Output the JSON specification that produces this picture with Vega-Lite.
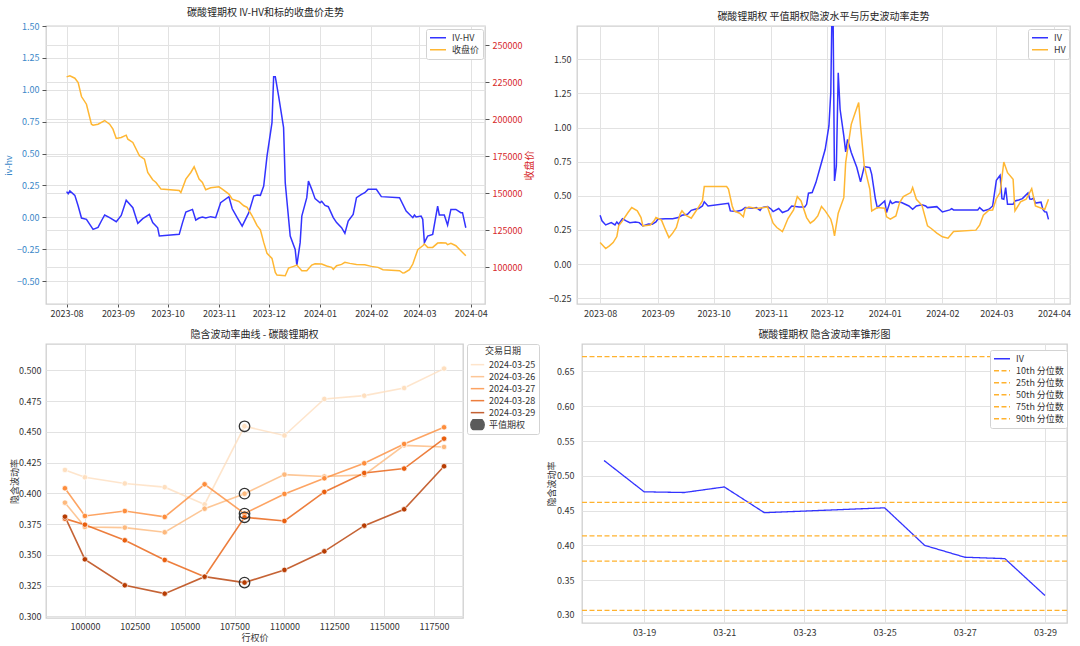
{
  "$schema": "https://vega.github.io/schema/vega-lite/v6.json",
  "background": "white",
  "padding": {"left": 3, "top": 7, "right": 4, "bottom": 2},
  "config": {
    "font": "Noto Sans CJK SC",
    "view": {"stroke": "#cfcfcf", "strokeWidth": 1.3},
    "axis": {"labelFontSize": 9, "labelColor": "#333333", "titleFontSize": 9, "titleFontWeight": "normal", "titleColor": "#333333", "gridColor": "#e2e2e2", "gridWidth": 1, "domain": false, "ticks": false, "labelFont": "Noto Sans CJK SC", "titleFont": "Noto Sans CJK SC"},
    "title": {"fontSize": 10, "fontWeight": "normal", "color": "#262626", "offset": 4, "font": "Noto Sans CJK SC"},
    "legend": {"labelFontSize": 9, "labelColor": "#333333", "titleFontSize": 9, "titleFontWeight": "normal", "titleColor": "#333333", "symbolSize": 256, "symbolStrokeWidth": 1.5, "clipHeight": 11.5, "padding": 3, "rowPadding": 0, "labelOffset": 5, "strokeColor": "#d3d3d3", "fillColor": "white", "cornerRadius": 2, "symbolBaseFillColor": "transparent"}
  },
  "datasets": {
    "p1": [
      {"date": "2023-08-01", "series": "IV-HV", "value": 0.201},
      {"date": "2023-08-02", "series": "IV-HV", "value": 0.185},
      {"date": "2023-08-03", "series": "IV-HV", "value": 0.206},
      {"date": "2023-08-06", "series": "IV-HV", "value": 0.172},
      {"date": "2023-08-08", "series": "IV-HV", "value": 0.088},
      {"date": "2023-08-10", "series": "IV-HV", "value": -0.006},
      {"date": "2023-08-13", "series": "IV-HV", "value": -0.016},
      {"date": "2023-08-15", "series": "IV-HV", "value": -0.056},
      {"date": "2023-08-17", "series": "IV-HV", "value": -0.095},
      {"date": "2023-08-20", "series": "IV-HV", "value": -0.079},
      {"date": "2023-08-22", "series": "IV-HV", "value": -0.029},
      {"date": "2023-08-24", "series": "IV-HV", "value": 0.018},
      {"date": "2023-08-27", "series": "IV-HV", "value": -0.003},
      {"date": "2023-08-31", "series": "IV-HV", "value": -0.035},
      {"date": "2023-09-03", "series": "IV-HV", "value": 0.015},
      {"date": "2023-09-06", "series": "IV-HV", "value": 0.133},
      {"date": "2023-09-10", "series": "IV-HV", "value": 0.075},
      {"date": "2023-09-13", "series": "IV-HV", "value": -0.048},
      {"date": "2023-09-16", "series": "IV-HV", "value": -0.011},
      {"date": "2023-09-20", "series": "IV-HV", "value": 0.023},
      {"date": "2023-09-22", "series": "IV-HV", "value": -0.042},
      {"date": "2023-09-25", "series": "IV-HV", "value": -0.082},
      {"date": "2023-09-26", "series": "IV-HV", "value": -0.147},
      {"date": "2023-10-08", "series": "IV-HV", "value": -0.134},
      {"date": "2023-10-10", "series": "IV-HV", "value": -0.042},
      {"date": "2023-10-12", "series": "IV-HV", "value": 0.041},
      {"date": "2023-10-16", "series": "IV-HV", "value": 0.062},
      {"date": "2023-10-18", "series": "IV-HV", "value": -0.022},
      {"date": "2023-10-20", "series": "IV-HV", "value": -0.006},
      {"date": "2023-10-22", "series": "IV-HV", "value": 0.002},
      {"date": "2023-10-24", "series": "IV-HV", "value": -0.006},
      {"date": "2023-10-27", "series": "IV-HV", "value": 0.005},
      {"date": "2023-10-30", "series": "IV-HV", "value": -0.003},
      {"date": "2023-11-02", "series": "IV-HV", "value": 0.114},
      {"date": "2023-11-07", "series": "IV-HV", "value": 0.161},
      {"date": "2023-11-09", "series": "IV-HV", "value": 0.067},
      {"date": "2023-11-12", "series": "IV-HV", "value": -0.003},
      {"date": "2023-11-15", "series": "IV-HV", "value": -0.069},
      {"date": "2023-11-17", "series": "IV-HV", "value": -0.016},
      {"date": "2023-11-19", "series": "IV-HV", "value": 0.036},
      {"date": "2023-11-22", "series": "IV-HV", "value": 0.167},
      {"date": "2023-11-24", "series": "IV-HV", "value": 0.175},
      {"date": "2023-11-26", "series": "IV-HV", "value": 0.172},
      {"date": "2023-11-28", "series": "IV-HV", "value": 0.245},
      {"date": "2023-11-30", "series": "IV-HV", "value": 0.48},
      {"date": "2023-12-03", "series": "IV-HV", "value": 0.742},
      {"date": "2023-12-04", "series": "IV-HV", "value": 1.103},
      {"date": "2023-12-05", "series": "IV-HV", "value": 1.103},
      {"date": "2023-12-07", "series": "IV-HV", "value": 0.951},
      {"date": "2023-12-10", "series": "IV-HV", "value": 0.703},
      {"date": "2023-12-11", "series": "IV-HV", "value": 0.271},
      {"date": "2023-12-14", "series": "IV-HV", "value": -0.147},
      {"date": "2023-12-17", "series": "IV-HV", "value": -0.252},
      {"date": "2023-12-18", "series": "IV-HV", "value": -0.377},
      {"date": "2023-12-20", "series": "IV-HV", "value": -0.199},
      {"date": "2023-12-21", "series": "IV-HV", "value": 0.01},
      {"date": "2023-12-24", "series": "IV-HV", "value": 0.154},
      {"date": "2023-12-25", "series": "IV-HV", "value": 0.284},
      {"date": "2023-12-27", "series": "IV-HV", "value": 0.219},
      {"date": "2023-12-29", "series": "IV-HV", "value": 0.146},
      {"date": "2024-01-01", "series": "IV-HV", "value": 0.114},
      {"date": "2024-01-02", "series": "IV-HV", "value": 0.125},
      {"date": "2024-01-04", "series": "IV-HV", "value": 0.093},
      {"date": "2024-01-06", "series": "IV-HV", "value": 0.083},
      {"date": "2024-01-09", "series": "IV-HV", "value": -0.003},
      {"date": "2024-01-11", "series": "IV-HV", "value": -0.042},
      {"date": "2024-01-14", "series": "IV-HV", "value": -0.082},
      {"date": "2024-01-16", "series": "IV-HV", "value": -0.126},
      {"date": "2024-01-18", "series": "IV-HV", "value": -0.029},
      {"date": "2024-01-21", "series": "IV-HV", "value": 0.023},
      {"date": "2024-01-23", "series": "IV-HV", "value": 0.154},
      {"date": "2024-01-26", "series": "IV-HV", "value": 0.18},
      {"date": "2024-01-28", "series": "IV-HV", "value": 0.193},
      {"date": "2024-01-30", "series": "IV-HV", "value": 0.219},
      {"date": "2024-02-04", "series": "IV-HV", "value": 0.219},
      {"date": "2024-02-07", "series": "IV-HV", "value": 0.162},
      {"date": "2024-02-18", "series": "IV-HV", "value": 0.154},
      {"date": "2024-02-22", "series": "IV-HV", "value": 0.049},
      {"date": "2024-02-26", "series": "IV-HV", "value": -0.003},
      {"date": "2024-02-27", "series": "IV-HV", "value": 0.018},
      {"date": "2024-02-28", "series": "IV-HV", "value": 0.002},
      {"date": "2024-03-02", "series": "IV-HV", "value": 0.01},
      {"date": "2024-03-03", "series": "IV-HV", "value": -0.016},
      {"date": "2024-03-04", "series": "IV-HV", "value": -0.199},
      {"date": "2024-03-06", "series": "IV-HV", "value": -0.147},
      {"date": "2024-03-09", "series": "IV-HV", "value": -0.134},
      {"date": "2024-03-12", "series": "IV-HV", "value": 0.088},
      {"date": "2024-03-13", "series": "IV-HV", "value": 0.018},
      {"date": "2024-03-16", "series": "IV-HV", "value": 0.018},
      {"date": "2024-03-18", "series": "IV-HV", "value": -0.061},
      {"date": "2024-03-20", "series": "IV-HV", "value": 0.062},
      {"date": "2024-03-23", "series": "IV-HV", "value": 0.062},
      {"date": "2024-03-26", "series": "IV-HV", "value": 0.036},
      {"date": "2024-03-27", "series": "IV-HV", "value": 0.036},
      {"date": "2024-03-29", "series": "IV-HV", "value": -0.082},
      {"date": "2023-08-01", "series": "收盘价", "value": 228600},
      {"date": "2023-08-03", "series": "收盘价", "value": 229260},
      {"date": "2023-08-06", "series": "收盘价", "value": 227700},
      {"date": "2023-08-08", "series": "收盘价", "value": 224760},
      {"date": "2023-08-10", "series": "收盘价", "value": 215300},
      {"date": "2023-08-13", "series": "收盘价", "value": 210120},
      {"date": "2023-08-16", "series": "收盘价", "value": 196600},
      {"date": "2023-08-17", "series": "收盘价", "value": 195930},
      {"date": "2023-08-20", "series": "收盘价", "value": 196600},
      {"date": "2023-08-24", "series": "收盘价", "value": 199080},
      {"date": "2023-08-27", "series": "收盘价", "value": 196600},
      {"date": "2023-08-29", "series": "收盘价", "value": 193230},
      {"date": "2023-08-31", "series": "收盘价", "value": 186920},
      {"date": "2023-09-03", "series": "收盘价", "value": 187600},
      {"date": "2023-09-06", "series": "收盘价", "value": 189180},
      {"date": "2023-09-07", "series": "收盘价", "value": 186470},
      {"date": "2023-09-10", "series": "收盘价", "value": 184220},
      {"date": "2023-09-14", "series": "收盘价", "value": 175210},
      {"date": "2023-09-17", "series": "收盘价", "value": 172960},
      {"date": "2023-09-19", "series": "收盘价", "value": 163950},
      {"date": "2023-09-22", "series": "收盘价", "value": 159000},
      {"date": "2023-09-24", "series": "收盘价", "value": 157200},
      {"date": "2023-09-27", "series": "收盘价", "value": 152700},
      {"date": "2023-10-08", "series": "收盘价", "value": 151790},
      {"date": "2023-10-09", "series": "收盘价", "value": 150440},
      {"date": "2023-10-12", "series": "收盘价", "value": 159450},
      {"date": "2023-10-15", "series": "收盘价", "value": 163950},
      {"date": "2023-10-17", "series": "收盘价", "value": 167780},
      {"date": "2023-10-20", "series": "收盘价", "value": 159450},
      {"date": "2023-10-22", "series": "收盘价", "value": 157200},
      {"date": "2023-10-24", "series": "收盘价", "value": 152240},
      {"date": "2023-10-27", "series": "收盘价", "value": 153600},
      {"date": "2023-11-01", "series": "收盘价", "value": 154270},
      {"date": "2023-11-03", "series": "收盘价", "value": 152700},
      {"date": "2023-11-07", "series": "收盘价", "value": 149310},
      {"date": "2023-11-09", "series": "收盘价", "value": 145930},
      {"date": "2023-11-13", "series": "收盘价", "value": 144360},
      {"date": "2023-11-16", "series": "收盘价", "value": 141430},
      {"date": "2023-11-18", "series": "收盘价", "value": 140300},
      {"date": "2023-11-21", "series": "收盘价", "value": 134670},
      {"date": "2023-11-24", "series": "收盘价", "value": 128000},
      {"date": "2023-11-26", "series": "收盘价", "value": 125220},
      {"date": "2023-11-28", "series": "收盘价", "value": 116660},
      {"date": "2023-11-30", "series": "收盘价", "value": 109230},
      {"date": "2023-12-03", "series": "收盘价", "value": 105850},
      {"date": "2023-12-05", "series": "收盘价", "value": 96390},
      {"date": "2023-12-06", "series": "收盘价", "value": 94590},
      {"date": "2023-12-11", "series": "收盘价", "value": 94140},
      {"date": "2023-12-13", "series": "收盘价", "value": 99320},
      {"date": "2023-12-16", "series": "收盘价", "value": 100440},
      {"date": "2023-12-18", "series": "收盘价", "value": 101340},
      {"date": "2023-12-21", "series": "收盘价", "value": 97520},
      {"date": "2023-12-24", "series": "收盘价", "value": 97520},
      {"date": "2023-12-27", "series": "收盘价", "value": 101340},
      {"date": "2023-12-29", "series": "收盘价", "value": 102240},
      {"date": "2024-01-02", "series": "收盘价", "value": 102020},
      {"date": "2024-01-05", "series": "收盘价", "value": 100660},
      {"date": "2024-01-08", "series": "收盘价", "value": 99770},
      {"date": "2024-01-09", "series": "收盘价", "value": 98420},
      {"date": "2024-01-11", "series": "收盘价", "value": 100890},
      {"date": "2024-01-14", "series": "收盘价", "value": 101790},
      {"date": "2024-01-16", "series": "收盘价", "value": 103140},
      {"date": "2024-01-19", "series": "收盘价", "value": 102470},
      {"date": "2024-01-23", "series": "收盘价", "value": 101790},
      {"date": "2024-01-28", "series": "收盘价", "value": 101560},
      {"date": "2024-02-01", "series": "收盘价", "value": 100440},
      {"date": "2024-02-05", "series": "收盘价", "value": 99770},
      {"date": "2024-02-08", "series": "收盘价", "value": 98190},
      {"date": "2024-02-18", "series": "收盘价", "value": 97520},
      {"date": "2024-02-20", "series": "收盘价", "value": 95950},
      {"date": "2024-02-21", "series": "收盘价", "value": 96170},
      {"date": "2024-02-24", "series": "收盘价", "value": 98190},
      {"date": "2024-02-26", "series": "收盘价", "value": 102020},
      {"date": "2024-02-29", "series": "收盘价", "value": 111700},
      {"date": "2024-03-03", "series": "收盘价", "value": 114400},
      {"date": "2024-03-04", "series": "收盘价", "value": 115540},
      {"date": "2024-03-06", "series": "收盘价", "value": 113280},
      {"date": "2024-03-09", "series": "收盘价", "value": 113280},
      {"date": "2024-03-12", "series": "收盘价", "value": 116210},
      {"date": "2024-03-14", "series": "收盘价", "value": 116440},
      {"date": "2024-03-17", "series": "收盘价", "value": 116210},
      {"date": "2024-03-18", "series": "收盘价", "value": 115090},
      {"date": "2024-03-20", "series": "收盘价", "value": 115990},
      {"date": "2024-03-23", "series": "收盘价", "value": 114400},
      {"date": "2024-03-26", "series": "收盘价", "value": 111020},
      {"date": "2024-03-29", "series": "收盘价", "value": 107640}
    ],
    "p2": [
      {"date": "2023-08-01", "series": "IV", "value": 0.358},
      {"date": "2023-08-02", "series": "IV", "value": 0.317},
      {"date": "2023-08-04", "series": "IV", "value": 0.287},
      {"date": "2023-08-07", "series": "IV", "value": 0.304},
      {"date": "2023-08-09", "series": "IV", "value": 0.287},
      {"date": "2023-08-10", "series": "IV", "value": 0.309},
      {"date": "2023-08-11", "series": "IV", "value": 0.292},
      {"date": "2023-08-13", "series": "IV", "value": 0.333},
      {"date": "2023-08-15", "series": "IV", "value": 0.317},
      {"date": "2023-08-17", "series": "IV", "value": 0.304},
      {"date": "2023-08-20", "series": "IV", "value": 0.309},
      {"date": "2023-08-22", "series": "IV", "value": 0.304},
      {"date": "2023-08-24", "series": "IV", "value": 0.28},
      {"date": "2023-08-27", "series": "IV", "value": 0.294},
      {"date": "2023-08-29", "series": "IV", "value": 0.292},
      {"date": "2023-08-31", "series": "IV", "value": 0.309},
      {"date": "2023-09-01", "series": "IV", "value": 0.329},
      {"date": "2023-09-05", "series": "IV", "value": 0.333},
      {"date": "2023-09-09", "series": "IV", "value": 0.333},
      {"date": "2023-09-12", "series": "IV", "value": 0.341},
      {"date": "2023-09-14", "series": "IV", "value": 0.358},
      {"date": "2023-09-17", "series": "IV", "value": 0.365},
      {"date": "2023-09-19", "series": "IV", "value": 0.394},
      {"date": "2023-09-21", "series": "IV", "value": 0.402},
      {"date": "2023-09-23", "series": "IV", "value": 0.407},
      {"date": "2023-09-25", "series": "IV", "value": 0.426},
      {"date": "2023-09-26", "series": "IV", "value": 0.456},
      {"date": "2023-09-28", "series": "IV", "value": 0.426},
      {"date": "2023-10-09", "series": "IV", "value": 0.446},
      {"date": "2023-10-10", "series": "IV", "value": 0.39},
      {"date": "2023-10-13", "series": "IV", "value": 0.385},
      {"date": "2023-10-16", "series": "IV", "value": 0.394},
      {"date": "2023-10-18", "series": "IV", "value": 0.414},
      {"date": "2023-10-22", "series": "IV", "value": 0.409},
      {"date": "2023-10-24", "series": "IV", "value": 0.414},
      {"date": "2023-10-26", "series": "IV", "value": 0.394},
      {"date": "2023-10-27", "series": "IV", "value": 0.414},
      {"date": "2023-10-30", "series": "IV", "value": 0.421},
      {"date": "2023-11-01", "series": "IV", "value": 0.402},
      {"date": "2023-11-02", "series": "IV", "value": 0.385},
      {"date": "2023-11-05", "series": "IV", "value": 0.407},
      {"date": "2023-11-07", "series": "IV", "value": 0.378},
      {"date": "2023-11-10", "series": "IV", "value": 0.394},
      {"date": "2023-11-12", "series": "IV", "value": 0.426},
      {"date": "2023-11-16", "series": "IV", "value": 0.419},
      {"date": "2023-11-19", "series": "IV", "value": 0.419},
      {"date": "2023-11-20", "series": "IV", "value": 0.438},
      {"date": "2023-11-21", "series": "IV", "value": 0.519},
      {"date": "2023-11-23", "series": "IV", "value": 0.524},
      {"date": "2023-11-25", "series": "IV", "value": 0.597},
      {"date": "2023-11-27", "series": "IV", "value": 0.695},
      {"date": "2023-11-30", "series": "IV", "value": 0.841},
      {"date": "2023-12-02", "series": "IV", "value": 1.012},
      {"date": "2023-12-03", "series": "IV", "value": 1.256},
      {"date": "2023-12-04", "series": "IV", "value": 2.2},
      {"date": "2023-12-05", "series": "IV", "value": 0.609},
      {"date": "2023-12-06", "series": "IV", "value": 0.719},
      {"date": "2023-12-07", "series": "IV", "value": 1.402},
      {"date": "2023-12-08", "series": "IV", "value": 1.134},
      {"date": "2023-12-10", "series": "IV", "value": 0.939},
      {"date": "2023-12-11", "series": "IV", "value": 0.822},
      {"date": "2023-12-12", "series": "IV", "value": 0.914},
      {"date": "2023-12-14", "series": "IV", "value": 0.817},
      {"date": "2023-12-17", "series": "IV", "value": 0.707},
      {"date": "2023-12-19", "series": "IV", "value": 0.602},
      {"date": "2023-12-21", "series": "IV", "value": 0.714},
      {"date": "2023-12-24", "series": "IV", "value": 0.707},
      {"date": "2023-12-25", "series": "IV", "value": 0.658},
      {"date": "2023-12-27", "series": "IV", "value": 0.475},
      {"date": "2023-12-28", "series": "IV", "value": 0.414},
      {"date": "2024-01-01", "series": "IV", "value": 0.463},
      {"date": "2024-01-02", "series": "IV", "value": 0.378},
      {"date": "2024-01-04", "series": "IV", "value": 0.463},
      {"date": "2024-01-05", "series": "IV", "value": 0.443},
      {"date": "2024-01-07", "series": "IV", "value": 0.456},
      {"date": "2024-01-10", "series": "IV", "value": 0.451},
      {"date": "2024-01-14", "series": "IV", "value": 0.426},
      {"date": "2024-01-16", "series": "IV", "value": 0.402},
      {"date": "2024-01-18", "series": "IV", "value": 0.426},
      {"date": "2024-01-21", "series": "IV", "value": 0.434},
      {"date": "2024-01-23", "series": "IV", "value": 0.426},
      {"date": "2024-01-24", "series": "IV", "value": 0.414},
      {"date": "2024-01-29", "series": "IV", "value": 0.421},
      {"date": "2024-02-01", "series": "IV", "value": 0.382},
      {"date": "2024-02-05", "series": "IV", "value": 0.397},
      {"date": "2024-02-06", "series": "IV", "value": 0.407},
      {"date": "2024-02-07", "series": "IV", "value": 0.397},
      {"date": "2024-02-20", "series": "IV", "value": 0.397},
      {"date": "2024-02-21", "series": "IV", "value": 0.414},
      {"date": "2024-02-23", "series": "IV", "value": 0.39},
      {"date": "2024-02-26", "series": "IV", "value": 0.402},
      {"date": "2024-02-28", "series": "IV", "value": 0.426},
      {"date": "2024-03-01", "series": "IV", "value": 0.614},
      {"date": "2024-03-03", "series": "IV", "value": 0.651},
      {"date": "2024-03-04", "series": "IV", "value": 0.48},
      {"date": "2024-03-05", "series": "IV", "value": 0.475},
      {"date": "2024-03-06", "series": "IV", "value": 0.561},
      {"date": "2024-03-07", "series": "IV", "value": 0.438},
      {"date": "2024-03-10", "series": "IV", "value": 0.438},
      {"date": "2024-03-11", "series": "IV", "value": 0.463},
      {"date": "2024-03-13", "series": "IV", "value": 0.47},
      {"date": "2024-03-15", "series": "IV", "value": 0.48},
      {"date": "2024-03-18", "series": "IV", "value": 0.522},
      {"date": "2024-03-19", "series": "IV", "value": 0.477},
      {"date": "2024-03-20", "series": "IV", "value": 0.476},
      {"date": "2024-03-21", "series": "IV", "value": 0.484},
      {"date": "2024-03-22", "series": "IV", "value": 0.447},
      {"date": "2024-03-25", "series": "IV", "value": 0.454},
      {"date": "2024-03-26", "series": "IV", "value": 0.4},
      {"date": "2024-03-27", "series": "IV", "value": 0.383},
      {"date": "2024-03-28", "series": "IV", "value": 0.381},
      {"date": "2024-03-29", "series": "IV", "value": 0.328},
      {"date": "2023-08-01", "series": "HV", "value": 0.158},
      {"date": "2023-08-04", "series": "HV", "value": 0.114},
      {"date": "2023-08-06", "series": "HV", "value": 0.134},
      {"date": "2023-08-08", "series": "HV", "value": 0.158},
      {"date": "2023-08-10", "series": "HV", "value": 0.202},
      {"date": "2023-08-11", "series": "HV", "value": 0.28},
      {"date": "2023-08-13", "series": "HV", "value": 0.317},
      {"date": "2023-08-16", "series": "HV", "value": 0.378},
      {"date": "2023-08-18", "series": "HV", "value": 0.414},
      {"date": "2023-08-21", "series": "HV", "value": 0.39},
      {"date": "2023-08-23", "series": "HV", "value": 0.341},
      {"date": "2023-08-24", "series": "HV", "value": 0.28},
      {"date": "2023-08-28", "series": "HV", "value": 0.287},
      {"date": "2023-08-30", "series": "HV", "value": 0.317},
      {"date": "2023-08-31", "series": "HV", "value": 0.341},
      {"date": "2023-09-03", "series": "HV", "value": 0.322},
      {"date": "2023-09-05", "series": "HV", "value": 0.256},
      {"date": "2023-09-07", "series": "HV", "value": 0.195},
      {"date": "2023-09-09", "series": "HV", "value": 0.227},
      {"date": "2023-09-11", "series": "HV", "value": 0.268},
      {"date": "2023-09-13", "series": "HV", "value": 0.366},
      {"date": "2023-09-14", "series": "HV", "value": 0.39},
      {"date": "2023-09-16", "series": "HV", "value": 0.358},
      {"date": "2023-09-19", "series": "HV", "value": 0.336},
      {"date": "2023-09-21", "series": "HV", "value": 0.378},
      {"date": "2023-09-23", "series": "HV", "value": 0.419},
      {"date": "2023-09-25", "series": "HV", "value": 0.463},
      {"date": "2023-09-26", "series": "HV", "value": 0.568},
      {"date": "2023-10-08", "series": "HV", "value": 0.568},
      {"date": "2023-10-09", "series": "HV", "value": 0.549},
      {"date": "2023-10-11", "series": "HV", "value": 0.426},
      {"date": "2023-10-12", "series": "HV", "value": 0.39},
      {"date": "2023-10-15", "series": "HV", "value": 0.373},
      {"date": "2023-10-17", "series": "HV", "value": 0.346},
      {"date": "2023-10-18", "series": "HV", "value": 0.407},
      {"date": "2023-10-20", "series": "HV", "value": 0.419},
      {"date": "2023-10-24", "series": "HV", "value": 0.407},
      {"date": "2023-10-28", "series": "HV", "value": 0.414},
      {"date": "2023-10-30", "series": "HV", "value": 0.419},
      {"date": "2023-10-31", "series": "HV", "value": 0.378},
      {"date": "2023-11-02", "series": "HV", "value": 0.3},
      {"date": "2023-11-04", "series": "HV", "value": 0.268},
      {"date": "2023-11-07", "series": "HV", "value": 0.239},
      {"date": "2023-11-08", "series": "HV", "value": 0.268},
      {"date": "2023-11-10", "series": "HV", "value": 0.334},
      {"date": "2023-11-13", "series": "HV", "value": 0.397},
      {"date": "2023-11-15", "series": "HV", "value": 0.495},
      {"date": "2023-11-17", "series": "HV", "value": 0.463},
      {"date": "2023-11-20", "series": "HV", "value": 0.341},
      {"date": "2023-11-22", "series": "HV", "value": 0.3},
      {"date": "2023-11-24", "series": "HV", "value": 0.32},
      {"date": "2023-11-26", "series": "HV", "value": 0.353},
      {"date": "2023-11-28", "series": "HV", "value": 0.422},
      {"date": "2023-11-30", "series": "HV", "value": 0.39},
      {"date": "2023-12-03", "series": "HV", "value": 0.329},
      {"date": "2023-12-04", "series": "HV", "value": 0.28},
      {"date": "2023-12-05", "series": "HV", "value": 0.207},
      {"date": "2023-12-07", "series": "HV", "value": 0.373},
      {"date": "2023-12-10", "series": "HV", "value": 0.487},
      {"date": "2023-12-11", "series": "HV", "value": 0.744},
      {"date": "2023-12-14", "series": "HV", "value": 1.024},
      {"date": "2023-12-16", "series": "HV", "value": 1.105},
      {"date": "2023-12-18", "series": "HV", "value": 1.183},
      {"date": "2023-12-19", "series": "HV", "value": 1.012},
      {"date": "2023-12-21", "series": "HV", "value": 0.719},
      {"date": "2023-12-24", "series": "HV", "value": 0.548},
      {"date": "2023-12-25", "series": "HV", "value": 0.39},
      {"date": "2023-12-28", "series": "HV", "value": 0.414},
      {"date": "2024-01-01", "series": "HV", "value": 0.409},
      {"date": "2024-01-02", "series": "HV", "value": 0.346},
      {"date": "2024-01-04", "series": "HV", "value": 0.329},
      {"date": "2024-01-07", "series": "HV", "value": 0.353},
      {"date": "2024-01-09", "series": "HV", "value": 0.451},
      {"date": "2024-01-11", "series": "HV", "value": 0.495},
      {"date": "2024-01-15", "series": "HV", "value": 0.524},
      {"date": "2024-01-16", "series": "HV", "value": 0.561},
      {"date": "2024-01-18", "series": "HV", "value": 0.475},
      {"date": "2024-01-21", "series": "HV", "value": 0.431},
      {"date": "2024-01-24", "series": "HV", "value": 0.28},
      {"date": "2024-01-26", "series": "HV", "value": 0.261},
      {"date": "2024-01-29", "series": "HV", "value": 0.227},
      {"date": "2024-02-01", "series": "HV", "value": 0.2},
      {"date": "2024-02-04", "series": "HV", "value": 0.19},
      {"date": "2024-02-07", "series": "HV", "value": 0.239},
      {"date": "2024-02-19", "series": "HV", "value": 0.249},
      {"date": "2024-02-21", "series": "HV", "value": 0.285},
      {"date": "2024-02-23", "series": "HV", "value": 0.358},
      {"date": "2024-02-26", "series": "HV", "value": 0.395},
      {"date": "2024-02-28", "series": "HV", "value": 0.397},
      {"date": "2024-03-01", "series": "HV", "value": 0.48},
      {"date": "2024-03-03", "series": "HV", "value": 0.524},
      {"date": "2024-03-05", "series": "HV", "value": 0.748},
      {"date": "2024-03-07", "series": "HV", "value": 0.67},
      {"date": "2024-03-10", "series": "HV", "value": 0.622},
      {"date": "2024-03-11", "series": "HV", "value": 0.39},
      {"date": "2024-03-14", "series": "HV", "value": 0.456},
      {"date": "2024-03-17", "series": "HV", "value": 0.475},
      {"date": "2024-03-20", "series": "HV", "value": 0.553},
      {"date": "2024-03-22", "series": "HV", "value": 0.426},
      {"date": "2024-03-27", "series": "HV", "value": 0.4},
      {"date": "2024-03-29", "series": "HV", "value": 0.475}
    ],
    "p3": [
      {"group": "2024-03-25", "strike": 99000, "iv": 0.419},
      {"group": "2024-03-25", "strike": 100000, "iv": 0.413},
      {"group": "2024-03-25", "strike": 102000, "iv": 0.408},
      {"group": "2024-03-25", "strike": 104000, "iv": 0.405},
      {"group": "2024-03-25", "strike": 106000, "iv": 0.391},
      {"group": "2024-03-25", "strike": 108000, "iv": 0.4545},
      {"group": "2024-03-25", "strike": 110000, "iv": 0.447},
      {"group": "2024-03-25", "strike": 112000, "iv": 0.4767},
      {"group": "2024-03-25", "strike": 114000, "iv": 0.4794},
      {"group": "2024-03-25", "strike": 116000, "iv": 0.4856},
      {"group": "2024-03-25", "strike": 118000, "iv": 0.5014},
      {"group": "2024-03-26", "strike": 99000, "iv": 0.3924},
      {"group": "2024-03-26", "strike": 100000, "iv": 0.3726},
      {"group": "2024-03-26", "strike": 102000, "iv": 0.3721},
      {"group": "2024-03-26", "strike": 104000, "iv": 0.3683},
      {"group": "2024-03-26", "strike": 106000, "iv": 0.3875},
      {"group": "2024-03-26", "strike": 108000, "iv": 0.3997},
      {"group": "2024-03-26", "strike": 110000, "iv": 0.4152},
      {"group": "2024-03-26", "strike": 112000, "iv": 0.4136},
      {"group": "2024-03-26", "strike": 114000, "iv": 0.415},
      {"group": "2024-03-26", "strike": 116000, "iv": 0.439},
      {"group": "2024-03-26", "strike": 118000, "iv": 0.4377},
      {"group": "2024-03-27", "strike": 99000, "iv": 0.4041},
      {"group": "2024-03-27", "strike": 100000, "iv": 0.3816},
      {"group": "2024-03-27", "strike": 102000, "iv": 0.3856},
      {"group": "2024-03-27", "strike": 104000, "iv": 0.3808},
      {"group": "2024-03-27", "strike": 106000, "iv": 0.4073},
      {"group": "2024-03-27", "strike": 108000, "iv": 0.3835},
      {"group": "2024-03-27", "strike": 110000, "iv": 0.3995},
      {"group": "2024-03-27", "strike": 112000, "iv": 0.4122},
      {"group": "2024-03-27", "strike": 114000, "iv": 0.4244},
      {"group": "2024-03-27", "strike": 116000, "iv": 0.4401},
      {"group": "2024-03-27", "strike": 118000, "iv": 0.4537},
      {"group": "2024-03-28", "strike": 99000, "iv": 0.3794},
      {"group": "2024-03-28", "strike": 100000, "iv": 0.3745},
      {"group": "2024-03-28", "strike": 102000, "iv": 0.3618},
      {"group": "2024-03-28", "strike": 104000, "iv": 0.3458},
      {"group": "2024-03-28", "strike": 106000, "iv": 0.3322},
      {"group": "2024-03-28", "strike": 108000, "iv": 0.3805},
      {"group": "2024-03-28", "strike": 110000, "iv": 0.3775},
      {"group": "2024-03-28", "strike": 112000, "iv": 0.4011},
      {"group": "2024-03-28", "strike": 114000, "iv": 0.4165},
      {"group": "2024-03-28", "strike": 116000, "iv": 0.4201},
      {"group": "2024-03-28", "strike": 118000, "iv": 0.4444},
      {"group": "2024-03-29", "strike": 99000, "iv": 0.381},
      {"group": "2024-03-29", "strike": 100000, "iv": 0.3463},
      {"group": "2024-03-29", "strike": 102000, "iv": 0.3252},
      {"group": "2024-03-29", "strike": 104000, "iv": 0.3184},
      {"group": "2024-03-29", "strike": 106000, "iv": 0.3322},
      {"group": "2024-03-29", "strike": 108000, "iv": 0.3274},
      {"group": "2024-03-29", "strike": 110000, "iv": 0.3377},
      {"group": "2024-03-29", "strike": 112000, "iv": 0.3528},
      {"group": "2024-03-29", "strike": 114000, "iv": 0.3737},
      {"group": "2024-03-29", "strike": 116000, "iv": 0.387},
      {"group": "2024-03-29", "strike": 118000, "iv": 0.422},
      {"group": "平值期权", "strike": 108000, "iv": 0.4545},
      {"group": "平值期权", "strike": 108000, "iv": 0.3997},
      {"group": "平值期权", "strike": 108000, "iv": 0.3835},
      {"group": "平值期权", "strike": 108000, "iv": 0.3805},
      {"group": "平值期权", "strike": 108000, "iv": 0.3274}
    ],
    "p4iv": [
      {"date": "2024-03-18", "kind": "IV", "value": 0.522},
      {"date": "2024-03-19", "kind": "IV", "value": 0.477},
      {"date": "2024-03-20", "kind": "IV", "value": 0.476},
      {"date": "2024-03-21", "kind": "IV", "value": 0.484},
      {"date": "2024-03-22", "kind": "IV", "value": 0.447},
      {"date": "2024-03-25", "kind": "IV", "value": 0.454},
      {"date": "2024-03-26", "kind": "IV", "value": 0.4},
      {"date": "2024-03-27", "kind": "IV", "value": 0.383},
      {"date": "2024-03-28", "kind": "IV", "value": 0.381},
      {"date": "2024-03-29", "kind": "IV", "value": 0.328}
    ],
    "p4q": [
      {"kind": "10th 分位数", "value": 0.3067},
      {"kind": "25th 分位数", "value": 0.3775},
      {"kind": "50th 分位数", "value": 0.4136},
      {"kind": "75th 分位数", "value": 0.4618},
      {"kind": "90th 分位数", "value": 0.6712}
    ]
  },
  "spacing": 9,
  "resolve": {"scale": {"color": "independent", "x": "independent", "y": "independent", "strokeDash": "independent", "shape": "independent"}},
  "vconcat": [
    {
      "spacing": 12,
      "resolve": {"scale": {"color": "independent", "x": "independent", "y": "independent"}},
      "hconcat": [
        {
          "width": 439, "height": 278,
          "title": "碳酸锂期权 IV-HV和标的收盘价走势",
          "data": {"name": "p1"},
          "encoding": {
            "x": {"field": "date", "type": "temporal", "scale": {"type": "utc", "domain": [1689775200000, 1712671200000]},
              "axis": {"title": null, "format": "%Y-%m", "grid": true, "ticks": true, "tickSize": 3, "tickColor": "#555555", "labelPadding": 2,
                "values": [{"year": 2023, "month": 8, "date": 1, "utc": true}, {"year": 2023, "month": 9, "date": 1, "utc": true}, {"year": 2023, "month": 10, "date": 1, "utc": true}, {"year": 2023, "month": 11, "date": 1, "utc": true}, {"year": 2023, "month": 12, "date": 1, "utc": true}, {"year": 2024, "month": 1, "date": 1, "utc": true}, {"year": 2024, "month": 2, "date": 1, "utc": true}, {"year": 2024, "month": 3, "date": 1, "utc": true}, {"year": 2024, "month": 4, "date": 1, "utc": true}]}}
          },
          "layer": [
            {
              "transform": [{"filter": "datum.series === 'IV-HV'"}],
              "mark": {"type": "line", "strokeWidth": 1.5, "clip": true},
              "encoding": {
                "y": {"field": "value", "type": "quantitative", "scale": {"domain": [-0.68, 1.5], "nice": false, "zero": false},
                  "axis": {"title": "iv-hv", "titleColor": "#3a87c8", "labelColor": "#3a87c8", "values": [-0.5, -0.25, 0, 0.25, 0.5, 0.75, 1, 1.25, 1.5], "format": ".2f", "ticks": true, "tickSize": 4, "tickColor": "#555555", "labelPadding": 3, "minExtent": 28, "maxExtent": 28, "titlePadding": 5, "grid": true}},
                "color": {"field": "series", "type": "nominal", "scale": {"domain": ["IV-HV", "收盘价"], "range": ["#3333ff", "#ffb733"]},
                  "legend": {"title": null, "orient": "none", "legendX": 380, "legendY": 3, "symbolType": "stroke"}}
              }
            },
            {
              "transform": [{"filter": "datum.series === '收盘价'"}],
              "mark": {"type": "line", "strokeWidth": 1.5, "clip": true},
              "encoding": {
                "y": {"field": "value", "type": "quantitative", "scale": {"domain": [75000, 263000], "nice": false, "zero": false},
                  "axis": {"orient": "right", "title": "收盘价", "titleColor": "#d62728", "labelColor": "#d62728", "titleFontSize": 10, "titleAngle": 270, "titleBaseline": "top", "values": [100000, 125000, 150000, 175000, 200000, 225000, 250000], "format": "d", "ticks": true, "tickSize": 4, "tickColor": "#555555", "labelPadding": 3, "minExtent": 37, "maxExtent": 37, "titlePadding": 2, "grid": true}},
                "color": {"field": "series", "type": "nominal"}
              }
            }
          ],
          "resolve": {"scale": {"y": "independent"}}
        },
        {
          "width": 493, "height": 278,
          "title": "碳酸锂期权 平值期权隐波水平与历史波动率走势",
          "data": {"name": "p2"},
          "mark": {"type": "line", "strokeWidth": 1.5, "clip": true},
          "encoding": {
            "x": {"field": "date", "type": "temporal", "scale": {"type": "utc", "domain": [1689775200000, 1712671200000]},
              "axis": {"title": null, "format": "%Y-%m", "grid": true, "labelPadding": 5,
                "values": [{"year": 2023, "month": 8, "date": 1, "utc": true}, {"year": 2023, "month": 9, "date": 1, "utc": true}, {"year": 2023, "month": 10, "date": 1, "utc": true}, {"year": 2023, "month": 11, "date": 1, "utc": true}, {"year": 2023, "month": 12, "date": 1, "utc": true}, {"year": 2024, "month": 1, "date": 1, "utc": true}, {"year": 2024, "month": 2, "date": 1, "utc": true}, {"year": 2024, "month": 3, "date": 1, "utc": true}, {"year": 2024, "month": 4, "date": 1, "utc": true}]}},
            "y": {"field": "value", "type": "quantitative", "scale": {"domain": [-0.292, 1.744], "nice": false, "zero": false},
              "axis": {"title": null, "values": [-0.25, 0, 0.25, 0.5, 0.75, 1, 1.25, 1.5], "format": ".2f", "labelPadding": 6, "minExtent": 23, "maxExtent": 23, "grid": true}},
            "color": {"field": "series", "type": "nominal", "scale": {"domain": ["IV", "HV"], "range": ["#3333ff", "#ffb733"]},
              "legend": {"title": null, "orient": "none", "legendX": 451, "legendY": 3, "symbolType": "stroke"}}
          }
        }
      ]
    },
    {
      "spacing": 5,
      "resolve": {"scale": {"color": "independent", "x": "independent", "y": "independent", "strokeDash": "independent", "shape": "independent"}},
      "hconcat": [
        {
          "width": 417, "height": 274,
          "title": "隐含波动率曲线 - 碳酸锂期权",
          "data": {"name": "p3"},
          "encoding": {
            "x": {"field": "strike", "type": "quantitative", "scale": {"domain": [98050, 118950], "nice": false, "zero": false},
              "axis": {"title": "行权价", "values": [100000, 102500, 105000, 107500, 110000, 112500, 115000, 117500], "format": "d", "labelPadding": 4, "titlePadding": 2, "grid": true}},
            "y": {"field": "iv", "type": "quantitative", "scale": {"domain": [0.2986, 0.5214], "nice": false, "zero": false},
              "axis": {"title": "隐含波动率", "values": [0.3, 0.325, 0.35, 0.375, 0.4, 0.425, 0.45, 0.475, 0.5], "format": ".3f", "labelPadding": 5, "minExtent": 25, "maxExtent": 25, "titlePadding": 2, "grid": true}}
          },
          "layer": [
            {
              "transform": [{"filter": "datum.group !== '平值期权'"}],
              "mark": {"type": "line", "strokeWidth": 1.6, "opacity": 0.8},
              "encoding": {
                "color": {"field": "group", "type": "nominal",
                  "scale": {"domain": ["2024-03-25", "2024-03-26", "2024-03-27", "2024-03-28", "2024-03-29", "平值期权"], "range": ["#fedfbf", "#fdb97d", "#fd8d3c", "#e95e0d", "#b73c02", "#333333"]},
                  "legend": {"title": "交易日期", "orient": "right", "offset": 4, "titleAnchor": "middle", "titlePadding": 3, "padding": 3, "symbolSize": 180, "labelOffset": 4, "clipHeight": 11.3, "symbolFillColor": "transparent"}}
              }
            },
            {
              "transform": [{"filter": "datum.group !== '平值期权'"}],
              "mark": {"type": "point", "filled": true, "size": 30, "stroke": "white", "strokeWidth": 0.7, "opacity": 1},
              "encoding": {"color": {"field": "group", "type": "nominal",
                "legend": {"title": "交易日期", "orient": "right", "offset": 4, "titleAnchor": "middle", "titlePadding": 3, "padding": 3, "symbolSize": 180, "labelOffset": 4, "clipHeight": 11.3, "symbolFillColor": "transparent"}}}
            },
            {
              "transform": [{"filter": "datum.group === '平值期权'"}],
              "mark": {"type": "point", "filled": false, "size": 110, "strokeWidth": 1.3, "opacity": 1},
              "encoding": {
                "color": {"field": "group", "type": "nominal",
                  "legend": {"title": "交易日期", "orient": "right", "offset": 4, "titleAnchor": "middle", "titlePadding": 3, "padding": 3, "symbolSize": 180, "labelOffset": 4, "clipHeight": 11.3, "symbolFillColor": "transparent"}},
                "shape": {"field": "group", "type": "nominal",
                  "scale": {"domain": ["2024-03-25", "2024-03-26", "2024-03-27", "2024-03-28", "2024-03-29", "平值期权"], "range": ["stroke", "stroke", "stroke", "stroke", "stroke", "circle"]},
                  "legend": {"title": "交易日期", "orient": "right", "offset": 4, "titleAnchor": "middle", "titlePadding": 3, "padding": 3, "symbolSize": 180, "labelOffset": 4, "clipHeight": 11.3, "symbolFillColor": "transparent"}}
              }
            }
          ]
        },
        {
          "width": 485, "height": 279,
          "title": "碳酸锂期权 隐含波动率锥形图",
          "encoding": {
            "y": {"field": "value", "type": "quantitative", "scale": {"domain": [0.2885, 0.6894], "nice": false, "zero": false},
              "axis": {"title": "隐含波动率", "values": [0.3, 0.35, 0.4, 0.45, 0.5, 0.55, 0.6, 0.65], "format": ".2f", "labelPadding": 8, "minExtent": 24, "maxExtent": 24, "titlePadding": 2, "grid": true}},
            "color": {"field": "kind", "type": "nominal",
              "scale": {"domain": ["IV", "10th 分位数", "25th 分位数", "50th 分位数", "75th 分位数", "90th 分位数"], "range": ["#3333ff", "#ffb22e", "#ffb22e", "#ffb22e", "#ffb22e", "#ffb22e"]},
              "legend": {"title": null, "orient": "none", "legendX": 408, "legendY": 6, "symbolType": "stroke", "clipHeight": 11.7}},
            "strokeDash": {"field": "kind", "type": "nominal",
              "scale": {"domain": ["IV", "10th 分位数", "25th 分位数", "50th 分位数", "75th 分位数", "90th 分位数"], "range": [[1, 0], [5, 2.5], [5, 2.5], [5, 2.5], [5, 2.5], [5, 2.5]]},
              "legend": {"title": null, "orient": "none", "legendX": 408, "legendY": 6, "symbolType": "stroke", "clipHeight": 11.7}}
          },
          "layer": [
            {
              "data": {"name": "p4iv"},
              "mark": {"type": "line", "strokeWidth": 1.3},
              "encoding": {
                "x": {"field": "date", "type": "temporal", "scale": {"type": "utc", "domain": [1710672480000, 1711717920000]},
                  "axis": {"title": null, "format": "%m-%d", "grid": true, "labelPadding": 5,
                    "values": [{"year": 2024, "month": 3, "date": 19, "utc": true}, {"year": 2024, "month": 3, "date": 21, "utc": true}, {"year": 2024, "month": 3, "date": 23, "utc": true}, {"year": 2024, "month": 3, "date": 25, "utc": true}, {"year": 2024, "month": 3, "date": 27, "utc": true}, {"year": 2024, "month": 3, "date": 29, "utc": true}]}}
              }
            },
            {
              "data": {"name": "p4q"},
              "mark": {"type": "rule", "strokeWidth": 1.3},
              "encoding": {}
            }
          ]
        }
      ]
    }
  ]
}
